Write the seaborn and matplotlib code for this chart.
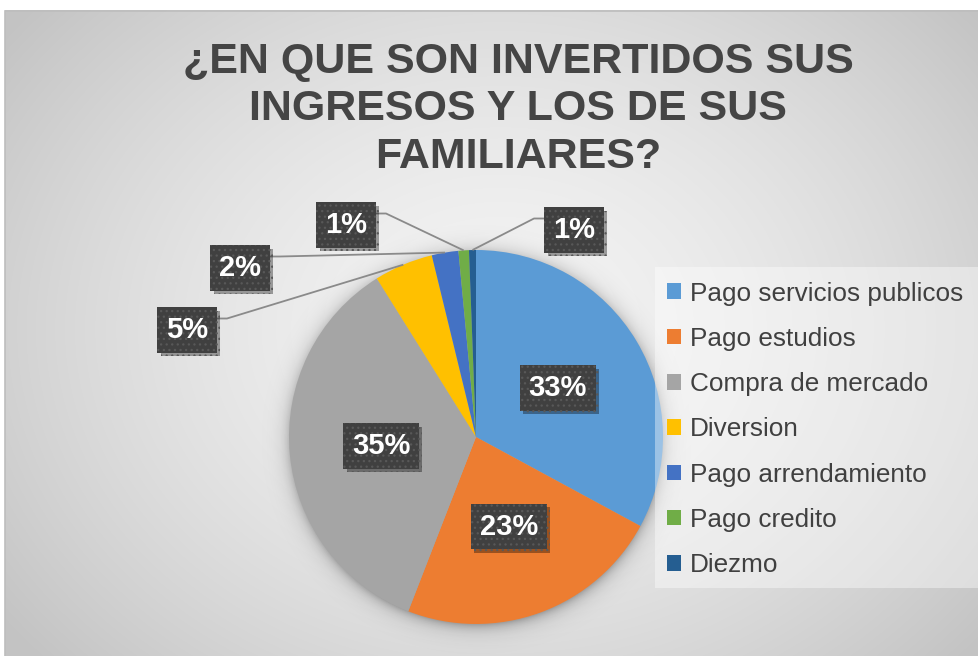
import numpy as np
import matplotlib
matplotlib.use("Agg")
import matplotlib.pyplot as plt
import seaborn as sns
from matplotlib.patches import Rectangle, Patch
from matplotlib import patheffects as pe

# ---- data -------------------------------------------------------------
categories = ["Pago servicios publicos", "Pago estudios", "Compra de mercado",
              "Diversion", "Pago arrendamiento", "Pago credito", "Diezmo"]
shares = [32.9, 23.0, 35.2, 5.1, 2.3, 0.9, 0.6]
slice_colors = ["#5B9BD5", "#ED7D31", "#A5A5A5", "#FFC000",
                "#4472C4", "#70AD47", "#255E91"]
title_lines = ["¿EN QUE SON INVERTIDOS SUS", "INGRESOS Y LOS DE SUS", "FAMILIARES?"]

# ---- style --------------------------------------------------------------
sns.set_theme(style="white")
plt.rcParams["font.family"] = ["Liberation Sans", "DejaVu Sans"]
plt.rcParams["hatch.linewidth"] = 0.9
palette = sns.color_palette(slice_colors)

W, H = 979, 656
fig = plt.figure(figsize=(W / 100, H / 100), dpi=100)
ax = fig.add_axes([0, 0, 1, 1])

def ty(y_top):
    """convert a top-down pixel row into the axes' y-up coordinate"""
    return H - y_top

# chart area with a soft radial gradient
area_left, area_top = 5, 11
yy, xx = np.mgrid[0:H, 0:W]
gx, gy = 500, ty(330)
dist = np.sqrt(((xx - gx) / 1.0) ** 2 + ((yy - gy) / 0.8) ** 2)
t = np.clip(dist / 620.0, 0, 1)
shade = 0.955 - 0.19 * t ** 1.6
bg = np.dstack([shade, shade, shade, np.ones_like(shade)])
bg[(xx < area_left) | (yy > ty(area_top))] = [1, 1, 1, 1]
ax.imshow(bg, extent=(0, W, 0, H), origin="lower", zorder=0, interpolation="bilinear")
ax.add_patch(Rectangle((area_left, -5), W + 10, ty(area_top) + 5, fill=False,
                       ec="#bdbdbd", lw=1.2, zorder=1))

# pie geometry
pcx, pcy, R = 476, ty(437), 187

# soft shadow beneath the pie
d = np.sqrt((xx - pcx) ** 2 + (yy - (pcy - 3)) ** 2)
sh_alpha = np.where(d > R - 2, 0.28 * np.exp(-np.clip(d - R + 2, 0, None) / 7.0), 0.28)
shadow = np.zeros((H, W, 4))
shadow[..., 3] = sh_alpha
ax.imshow(shadow, extent=(0, W, 0, H), origin="lower", zorder=2, interpolation="bilinear")

wedges, _ = ax.pie(shares, colors=palette, startangle=90, counterclock=False,
                   center=(pcx, pcy), radius=R,
                   wedgeprops=dict(linewidth=0))
for w in wedges:
    w.set_zorder(3)

ax.set_xlim(0, W)
ax.set_ylim(0, H)
ax.set_aspect("auto")
ax.axis("off")

# ---- data labels ----------------------------------------------------------
fracs = np.array(shares) / np.sum(shares)
cum = np.concatenate([[0], np.cumsum(fracs)])
mids = (cum[:-1] + cum[1:]) / 2 * 2 * np.pi   # clockwise from 12 o'clock

label_kw = dict(fontsize=21, fontweight="bold", color="white", ha="center",
                va="center", zorder=6)
box_kw = dict(boxstyle="square,pad=0.3", fc="#404040", ec="#585858", lw=0, hatch="...")

def put_label(x, y, txt):
    t_ = ax.text(x, y, txt, bbox=box_kw, **label_kw)
    t_.get_bbox_patch().set_path_effects(
        [pe.SimplePatchShadow(offset=(2.5, -2.5), alpha=0.35, shadow_rgbFace="#000000"),
         pe.Normal()])
    return t_

# labels that sit inside the larger slices
for i in range(3):
    a = mids[i]
    lx = pcx + 0.51 * R * np.sin(a)
    ly = pcy + 0.51 * R * np.cos(a)
    put_label(lx, ly, f"{round(shares[i]):.0f}%")

# labels for the thin slices, pulled outside with leader lines
outside = {3: (187, 330, "left"), 4: (240, 268, "left"),
           5: (346, 225, "left"), 6: (574, 230, "right")}
half_w = 30
for i, (bx, by_top, side) in outside.items():
    by = ty(by_top)
    a = mids[i]
    ex = pcx + R * np.sin(a)
    ey = pcy + R * np.cos(a)
    attach_y = by + 11.5
    if side == "left":
        edge_x = bx + half_w
        elbow_x = edge_x + 10
    else:
        edge_x = bx - half_w
        elbow_x = edge_x - 10
    ax.plot([ex, elbow_x, edge_x], [ey, attach_y, attach_y], color="#8a8a8a",
            lw=1.3, zorder=4, solid_capstyle="butt")
    put_label(bx, by, f"{round(shares[i]):.0f}%")

# ---- title ----------------------------------------------------------------
title_baselines = [72.5, 120.5, 168.5]
for line, y in zip(title_lines, title_baselines):
    ax.text(518, ty(y), line, fontsize=31, fontweight="bold", color="#454545",
            ha="center", va="baseline", zorder=6)

# ---- legend ---------------------------------------------------------------
ax.add_patch(Rectangle((655, ty(588)), W, 588 - 267, fc="white", alpha=0.4,
                       ec="none", zorder=4))
handles = [Patch(fc=c, ec="none") for c in palette]
leg = ax.legend(handles, categories, loc="upper left",
                bbox_to_anchor=(667, ty(281.5)), bbox_transform=ax.transData,
                frameon=False, fontsize=18.8, handlelength=0.54, handleheight=0.54,
                handletextpad=0.34, labelspacing=0.815, borderpad=0, borderaxespad=0)
leg.set_zorder(7)
for txt in leg.get_texts():
    txt.set_color("#404040")

fig.savefig("out.png", dpi=100)
